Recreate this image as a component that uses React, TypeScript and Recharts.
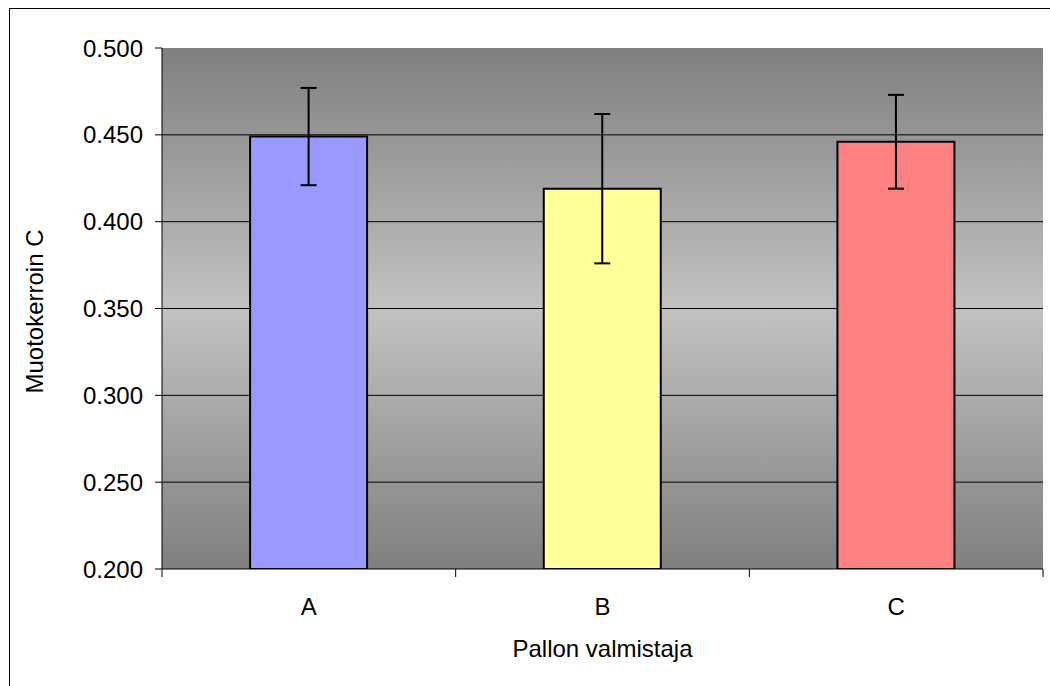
import { BarChart, Bar, Cell, XAxis, YAxis, CartesianGrid, ErrorBar, Label } from "recharts";

const makers = ["A", "B", "C"];
const coefMeans = [0.449, 0.419, 0.446];
const coefErrors = [0.028, 0.043, 0.027];
const barColors = ["#9999FF", "#FFFF99", "#FF8080"];
const yTicks = [0.2, 0.25, 0.3, 0.35, 0.4, 0.45, 0.5];
const gridValues = [0.25, 0.3, 0.35, 0.4, 0.45];

const data = makers.map((m, i) => ({ name: m, mean: coefMeans[i], err: coefErrors[i] }));

const W = 1050;
const H = 686;
const LEFT = 162;
const RIGHT = 7;
const FONT = "'Liberation Sans', Arial, sans-serif";
const FS = 24;
const band = (W - LEFT - RIGHT) / makers.length;

const XTick = (props: any) => {
  const { x, y, payload, index } = props;
  const axisY = y - 8;
  return (
    <g>
      <line x1={x - band / 2} x2={x - band / 2} y1={axisY} y2={axisY + 8} stroke="#000" />
      {index === makers.length - 1 && (
        <line x1={x + band / 2} x2={x + band / 2} y1={axisY} y2={axisY + 8} stroke="#000" />
      )}
      <text x={x} y={axisY + 46} textAnchor="middle" fontSize={FS} fontFamily={FONT} fill="#000">
        {payload.value}
      </text>
    </g>
  );
};

export default function App() {
  return (
    <div style={{ position: "absolute", left: 0, top: 0, width: W, height: H, overflow: "hidden", background: "#fff" }}>
      <svg width={0} height={0} style={{ position: "absolute" }}>
        <defs>
          <linearGradient id="plotBg" x1="0" y1="0" x2="0" y2="1">
            <stop offset="0%" stopColor="#7f7f7f" />
            <stop offset="50%" stopColor="#c2c2c2" />
            <stop offset="100%" stopColor="#7f7f7f" />
          </linearGradient>
        </defs>
      </svg>
      <div style={{ position: "absolute", left: 9, top: 8, width: 1200, height: 1000, borderLeft: "1px solid #000", borderTop: "1px solid #000" }} />
      <div style={{ position: "absolute", left: 0, top: 0 }}>
        <BarChart width={W} height={H} data={data} margin={{ top: 48, right: RIGHT, bottom: 0, left: 0 }} barCategoryGap="30%">
          <CartesianGrid
            vertical={false}
            stroke="#000"
            fill="url(#plotBg)"
            fillOpacity={1}
            horizontalValues={gridValues}
          />
          <XAxis
            dataKey="name"
            height={117}
            axisLine={{ stroke: "#000" }}
            tickLine={false}
            tickSize={8}
            tickMargin={0}
            tick={<XTick />}
            interval={0}
          >
            <Label
              content={({ viewBox }: any) => (
                <text
                  x={viewBox.x + viewBox.width / 2}
                  y={657}
                  textAnchor="middle"
                  fontSize={FS}
                  fontFamily={FONT}
                  fill="#000"
                >
                  Pallon valmistaja
                </text>
              )}
            />
          </XAxis>
          <YAxis
            width={LEFT}
            domain={[0.2, 0.5]}
            ticks={yTicks}
            allowDataOverflow
            tickFormatter={(v: number) => v.toFixed(3)}
            axisLine={{ stroke: "#000" }}
            tickLine={{ stroke: "#000" }}
            tickSize={7}
            tickMargin={12}
            tick={{ fontSize: FS, fontFamily: FONT, fill: "#000" }}
          >
            <Label
              content={({ viewBox }: any) => {
                const cx = 34;
                const cy = viewBox.y + viewBox.height / 2 + 3;
                return (
                  <text
                    x={cx}
                    y={cy}
                    transform={`rotate(-90 ${cx} ${cy})`}
                    textAnchor="middle"
                    dominantBaseline="central"
                    fontSize={FS}
                    fontFamily={FONT}
                    fill="#000"
                  >
                    Muotokerroin C
                  </text>
                );
              }}
            />
          </YAxis>
          <Bar dataKey="mean" stroke="#000" strokeWidth={2} isAnimationActive={false}>
            {data.map((d, i) => (
              <Cell key={d.name} fill={barColors[i]} />
            ))}
            <ErrorBar dataKey="err" width={8} stroke="#000" strokeWidth={2} isAnimationActive={false} />
          </Bar>
        </BarChart>
      </div>
    </div>
  );
}
